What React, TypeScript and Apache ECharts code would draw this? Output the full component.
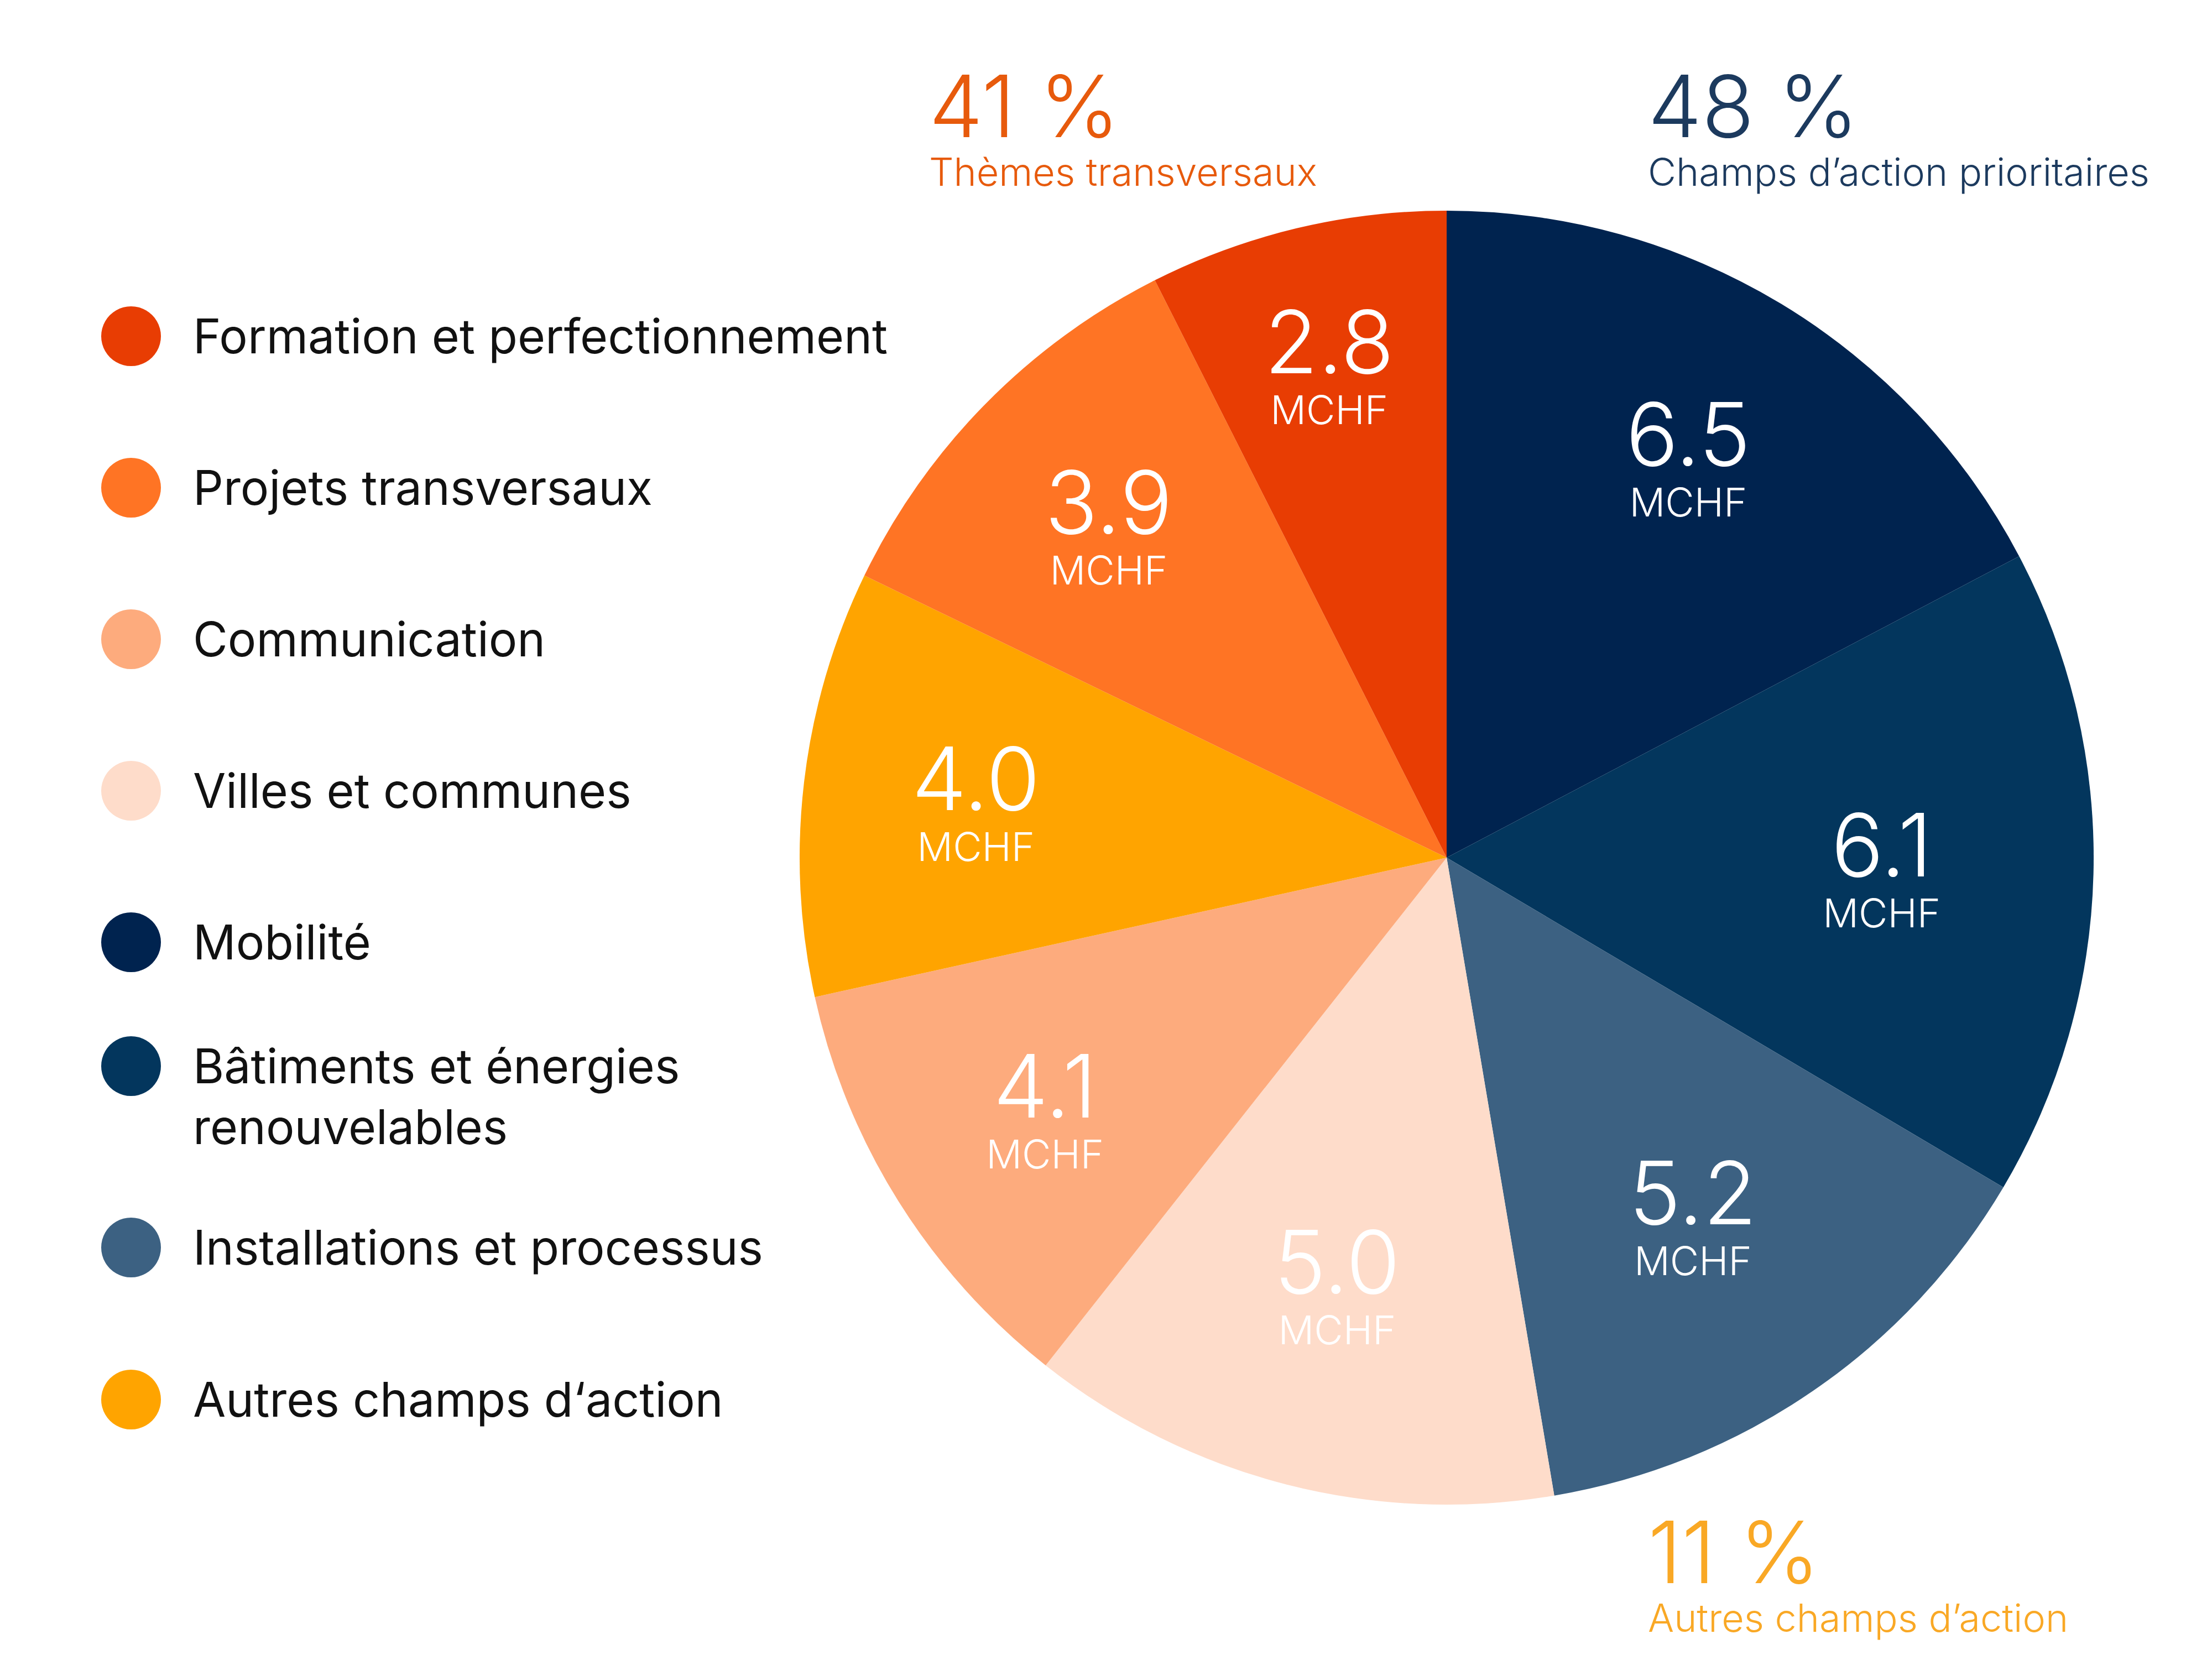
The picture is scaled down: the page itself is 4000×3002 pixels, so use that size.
import { useEffect, useRef } from 'react'
import * as echarts from 'echarts'

// slices, clockwise from 12 o'clock (MCHF)
const sliceNames = [
  'Mobilité',
  'Bâtiments et énergies renouvelables',
  'Installations et processus',
  'Villes et communes',
  'Communication',
  'Autres champs d‘action',
  'Projets transversaux',
  'Formation et perfectionnement',
]
const sliceValues = [6.5, 6.1, 5.2, 5.0, 4.1, 4.0, 3.9, 2.8]
const sliceColors = ['#00234F', '#03365D', '#3C6182', '#FEDCCA', '#FDAB7D', '#FFA400', '#FF7424', '#E83D03']

// legend order (left column)
const legendFirst = [
  'Formation et perfectionnement',
  'Projets transversaux',
  'Communication',
  'Villes et communes',
  'Mobilité',
]
const legendSecond = ['Bâtiments et énergies renouvelables']
const legendThird = ['Installations et processus', 'Autres champs d‘action']

// group totals written around the pie
const groupShares = ['41 %', '48 %', '11 %']
const groupLabels = ['Thèmes transversaux', 'Champs d’action prioritaires', 'Autres champs d’action']
const groupColors = ['#E75A0C', '#1C3A5E', '#F9A825']

const FONT = 'Inter, "Noto Sans", sans-serif'
const R = 1170
const RING_MID = 0.71
// where each value label sits, as a share of the radius
const labelRadius = [0.72, 0.67, 0.67, 0.68, 0.73, 0.73, 0.73, 0.78]

export default function App() {
  const chartRef = useRef<HTMLDivElement>(null)

  useEffect(() => {
    document.body.style.margin = '0'
    if (!chartRef.current) return
    const chart = echarts.init(chartRef.current, undefined, { renderer: 'svg' })

    const data = sliceNames.map((name, i) => ({
      name,
      value: sliceValues[i],
      itemStyle: { color: sliceColors[i] },
    }))

    const total = sliceValues.reduce((a, b) => a + b, 0)
    const midAngles = sliceValues.map((v, i) => {
      const before = sliceValues.slice(0, i).reduce((a, b) => a + b, 0)
      return ((before + v / 2) / total) * Math.PI * 2
    })

    const legendBase = {
      orient: 'vertical' as const,
      left: 183,
      padding: 0,
      icon: 'circle',
      itemWidth: 108,
      itemHeight: 108,
      selectedMode: false,
      textStyle: { fontFamily: FONT, fontSize: 86, color: '#111', lineHeight: 100, padding: [0, 0, 0, 53] },
    }

    // [x, y of big number, y of caption]
    const groupPos = [
      [1680, 191, 310],
      [2980, 191, 310],
      [2980, 2806, 2925],
    ]

    chart.setOption({
      animation: false,
      backgroundColor: '#fff',
      legend: [
        { ...legendBase, top: 554, itemGap: 166, data: legendFirst },
        {
          ...legendBase,
          top: 1763,
          data: legendSecond,
          // leading empty line keeps the first text line level with the dot
          formatter: (n: string) => '\n' + n.replace('énergies ', 'énergies\n'),
          textStyle: { ...legendBase.textStyle, lineHeight: 110 },
        },
        { ...legendBase, top: 2202, itemGap: 167, data: legendThird },
      ],
      graphic: groupShares.flatMap((share, i) => [
        {
          type: 'text',
          x: groupPos[i][0],
          y: groupPos[i][1],
          style: {
            text: share,
            fill: groupColors[i],
            font: `300 155px ${FONT}`,
            verticalAlign: 'middle',
          },
        },
        {
          type: 'text',
          x: groupPos[i][0],
          y: groupPos[i][2],
          style: {
            text: groupLabels[i],
            fill: groupColors[i],
            font: `300 70px ${FONT}`,
            verticalAlign: 'middle',
          },
        },
      ]),
      series: [
        {
          type: 'pie',
          center: [2616, 1551],
          radius: [0, R],
          startAngle: 90,
          clockwise: true,
          silent: true,
          avoidLabelOverlap: false,
          label: { show: false },
          labelLine: { show: false },
          itemStyle: { borderWidth: 0 },
          emphasis: { disabled: true },
          data,
        },
        {
          // transparent ring carrying the value labels
          type: 'pie',
          center: [2616, 1551],
          radius: [R * (2 * RING_MID - 1), R],
          startAngle: 90,
          clockwise: true,
          silent: true,
          avoidLabelOverlap: false,
          itemStyle: { color: 'rgba(0,0,0,0)', borderWidth: 0 },
          emphasis: { disabled: true },
          labelLine: { show: false },
          label: {
            show: true,
            position: 'inside',
            color: '#fff',
            fontFamily: FONT,
            formatter: (p: any) => `{v|${Number(p.value).toFixed(1)}}\n{u|MCHF}`,
            rich: {
              v: { fontSize: 158, lineHeight: 160, color: '#fff', fontFamily: FONT, fontWeight: 300 },
              u: { fontSize: 72, lineHeight: 86, color: '#fff', fontFamily: FONT, fontWeight: 300 },
            },
          },
          labelLayout: (p: any) => {
            const d = (labelRadius[p.dataIndex] - RING_MID) * R
            const a = midAngles[p.dataIndex]
            return { dx: d * Math.sin(a), dy: -d * Math.cos(a) }
          },
          data: data.map((d) => ({ name: d.name, value: d.value })),
        },
      ],
    })

    return () => chart.dispose()
  }, [])

  return <div ref={chartRef} style={{ width: 4000, height: 3002 }} />
}
